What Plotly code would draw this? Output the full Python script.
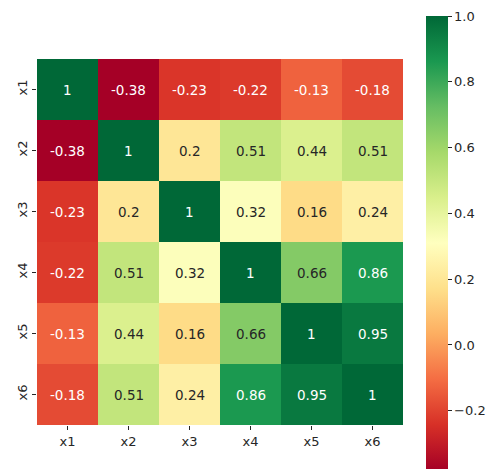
import plotly.graph_objects as go

labels = ["x1", "x2", "x3", "x4", "x5", "x6"]
corr = [
    [1.00, -0.38, -0.23, -0.22, -0.13, -0.18],
    [-0.38, 1.00, 0.20, 0.51, 0.44, 0.51],
    [-0.23, 0.20, 1.00, 0.32, 0.16, 0.24],
    [-0.22, 0.51, 0.32, 1.00, 0.66, 0.86],
    [-0.13, 0.44, 0.16, 0.66, 1.00, 0.95],
    [-0.18, 0.51, 0.24, 0.86, 0.95, 1.00],
]
cbar_ticks = [-0.2, 0.0, 0.2, 0.4, 0.6, 0.8, 1.0]
cbar_ticktext = ["\u22120.2", "0.0", "0.2", "0.4", "0.6", "0.8", "1.0"]

zmin, zmax = -0.38, 1.0
FONT = "DejaVu Sans"
DARK = "#262626"

W, H = 488, 469
L, R, T, B = 37, 85, 59, 44
plot_h = H - T - B

fig = go.Figure(
    go.Heatmap(
        z=corr, x=labels, y=labels,
        colorscale="RdYlGn", zmin=zmin, zmax=zmax,
        xgap=0, ygap=0,
        hoverinfo="skip",
        colorbar=dict(
            thickness=22, thicknessmode="pixels",
            len=454, lenmode="pixels",
            x=(426 - L) / (W - L - R), xanchor="left",
            y=(H - B - 16) / plot_h, yanchor="top",
            xpad=0, ypad=0, outlinewidth=0,
            tickmode="array", tickvals=cbar_ticks, ticktext=cbar_ticktext,
            ticks="outside", ticklen=4, tickcolor=DARK, tickwidth=1,
            tickfont=dict(family=FONT, size=13, color=DARK),
        ),
    )
)

def use_white(v):
    # white text on dark cells (as seaborn does)
    return v < -0.1 or v > 0.8

for i, row in enumerate(corr):
    for j, v in enumerate(row):
        fig.add_annotation(
            x=labels[j], y=labels[i], text=format(v, ".2g"), showarrow=False,
            font=dict(family=FONT, size=13.5, color="white" if use_white(v) else DARK),
        )

fig.update_layout(
    width=W, height=H,
    margin=dict(l=L, r=R, t=T, b=B, autoexpand=False),
    paper_bgcolor="white", plot_bgcolor="white",
    font=dict(family=FONT, size=13, color=DARK),
    xaxis=dict(
        showgrid=False, zeroline=False, showline=False,
        ticks="outside", ticklen=4, tickcolor=DARK,
        tickfont=dict(family=FONT, size=13, color=DARK),
    ),
    yaxis=dict(
        showgrid=False, zeroline=False, showline=False, autorange="reversed",
        ticks="outside", ticklen=4, tickcolor=DARK, tickangle=-90,
        tickfont=dict(family=FONT, size=13, color=DARK),
    ),
)

fig.write_html(
    "out.html",
    config={"displayModeBar": False},
    post_script="document.body.style.margin='0';document.body.style.overflow='hidden';",
)
